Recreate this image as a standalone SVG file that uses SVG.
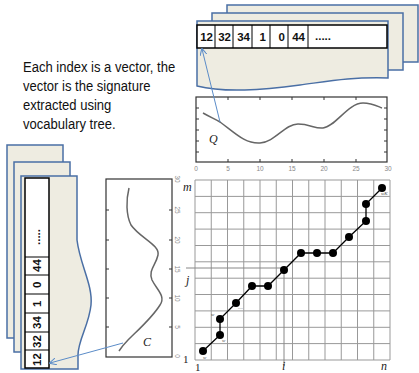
<svg xmlns="http://www.w3.org/2000/svg" width="419" height="373" viewBox="0 0 419 373">
<style>
.doc{fill:#eeece1;stroke:#4a6fa5;stroke-width:1.5}
.cell{fill:#fff;stroke:#000;stroke-width:1.5}
.num{font-family:"Liberation Sans",Arial,sans-serif;font-size:11.5px;font-weight:bold;fill:#111}
.para{font-family:"Liberation Sans",Arial,sans-serif;font-size:14.5px;fill:#111}
.frame{fill:#fff;stroke:#333;stroke-width:1.2}
.tick{font-family:"Liberation Sans",Arial,sans-serif;font-size:6.5px;fill:#888}
.curve{fill:none;stroke:#666;stroke-width:1.5}
.grid{fill:none;stroke:#999;stroke-width:1}
.ax{font-family:"Liberation Serif","Times New Roman",serif;font-style:italic;font-size:12px;fill:#222}
.one{font-family:"Liberation Serif","Times New Roman",serif;font-size:11px;fill:#222}
.w{font-family:"Liberation Serif",serif;font-style:italic;font-size:5px;fill:#444}
.conn{fill:none;stroke:#5b8cc8;stroke-width:1}
.path{fill:none;stroke:#000;stroke-width:1.3}
</style>
<defs>
<marker id="ah" viewBox="0 0 10 10" refX="9" refY="5" markerWidth="7" markerHeight="7" orient="auto">
<path d="M0,0 L10,5 L0,10" fill="none" stroke="#5b8cc8" stroke-width="1.5"/>
</marker>
</defs>

<g id="top-docs">
<rect class="doc" x="227" y="5" width="191" height="57"/>
<rect class="doc" x="212" y="13" width="191" height="57"/>
<path class="doc" d="M197,21 H388 V78 C350,77 330,81 300,85 C262,90 225,93 197,86 Z"/>
</g>
<g id="top-vector">
<rect class="cell" x="197" y="25" width="190" height="23"/>
<path d="M215,25V48M233,25V48M252,25V48M270,25V48M288,25V48M308,25V48" stroke="#000" stroke-width="1"/>
<text class="num" x="213" y="41" text-anchor="end">12</text>
<text class="num" x="231" y="41" text-anchor="end">32</text>
<text class="num" x="250" y="41" text-anchor="end">34</text>
<text class="num" x="266" y="41" text-anchor="end">1</text>
<text class="num" x="285" y="41" text-anchor="end">0</text>
<text class="num" x="305" y="41" text-anchor="end">44</text>
<text class="num" x="315" y="40">.....</text>
</g>

<g id="caption" transform="scale(0.9,1)">
<text class="para" x="25.5" y="72">Each index is a vector, the</text>
<text class="para" x="25.5" y="91">vector is the signature</text>
<text class="para" x="25.5" y="110">extracted using</text>
<text class="para" x="25.5" y="129">vocabulary tree.</text>
</g>

<g id="left-docs">
<rect class="doc" x="7" y="145" width="56" height="193"/>
<rect class="doc" x="14" y="162" width="56" height="190"/>
<path class="doc" d="M21,176 H77 V240 C80,265 93,285 91,305 C89,325 78,340 78,355 V369 H21 Z"/>
</g>
<g id="left-vector">
<rect class="cell" x="25" y="178" width="24" height="190"/>
<path d="M25,257H49M25,275H49M25,294H49M25,313H49M25,332H49M25,350H49" stroke="#000" stroke-width="1"/>
<text class="num" transform="translate(41,366) rotate(-90)">12</text>
<text class="num" transform="translate(41,348) rotate(-90)">32</text>
<text class="num" transform="translate(41,329) rotate(-90)">34</text>
<text class="num" transform="translate(41,307) rotate(-90)">1</text>
<text class="num" transform="translate(41,288) rotate(-90)">0</text>
<text class="num" transform="translate(41,272) rotate(-90)">44</text>
<text class="num" transform="translate(40,245) rotate(-90)">.....</text>
</g>

<g id="q-chart">
<rect class="frame" x="196" y="97" width="191" height="65"/>
<path d="M196,108h3M196,119h3M196,130h3M196,141h3M196,152h3M387,108h-3M387,119h-3M387,130h-3M387,141h-3M387,152h-3M228,162v-3M260,162v-3M292,162v-3M324,162v-3M356,162v-3M228,97v3M260,97v3M292,97v3M324,97v3M356,97v3" stroke="#333" stroke-width="1"/>
<path class="curve" d="M203,113 C210,117 215,119 220,122 C235,133 245,144 260,143 C275,142 285,124 298,124 C310,124 315,129 323,128 C335,127 348,103 363,103 C372,103 377,106 382,108"/>
<text class="ax" x="209" y="143">Q</text>
<g class="tick" text-anchor="middle">
<text x="196" y="171">0</text><text x="228" y="171">5</text><text x="260" y="171">10</text><text x="292" y="171">15</text><text x="324" y="171">20</text><text x="356" y="171">25</text><text x="388" y="171">30</text>
</g>
</g>

<g id="c-chart">
<rect class="frame" x="106" y="179" width="66" height="178"/>
<path d="M172,327h-3M172,298h-3M172,269h-3M172,240h-3M172,210h-3M106,327h3M106,298h3M106,269h3M106,240h3M106,210h3" stroke="#333" stroke-width="1"/>
<path class="curve" d="M129,188 C126,200 126,215 131,225 C140,238 160,245 158,255 C156,265 148,270 152,280 C157,290 166,296 160,305 C152,318 138,330 128,340 C124,344 121,348 119,351"/>
<text class="ax" x="143" y="346">C</text>
<g class="tick" text-anchor="middle">
<text transform="translate(175,356) rotate(90)">0</text>
<text transform="translate(175,327) rotate(90)">5</text>
<text transform="translate(175,298) rotate(90)">10</text>
<text transform="translate(175,269) rotate(90)">15</text>
<text transform="translate(175,240) rotate(90)">20</text>
<text transform="translate(175,210) rotate(90)">25</text>
<text transform="translate(175,179) rotate(90)">30</text>
</g>
</g>

<g id="grid-chart">
<path class="grid" d="M195,180V360M211.25,180V360M227.5,180V360M243.75,180V360M260,180V360M276.25,180V360M292.5,180V360M308.75,180V360M325,180V360M341.25,180V360M357.5,180V360M373.75,180V360M390,180V360
M195,180H390M195,196.4H390M195,212.7H390M195,229.1H390M195,245.5H390M195,261.8H390M195,278.2H390M195,294.5H390M195,310.9H390M195,327.3H390M195,343.6H390M195,360H390"/>
<path d="M186,268H284V366" stroke="#888" stroke-width="1" fill="none"/>
<path class="path" d="M203,351 L220,335 L220,319 L236,303 L252,286 L268,286 L284,270 L301,253 L317,253 L333,253 L349,237 L366,221 L366,204 L382,188"/>
<g fill="#000">
<circle cx="203" cy="351" r="4"/><circle cx="220" cy="335" r="4"/><circle cx="220" cy="319" r="4"/><circle cx="236" cy="303" r="4"/>
<circle cx="252" cy="286" r="4"/><circle cx="268" cy="286" r="4"/><circle cx="284" cy="270" r="4"/><circle cx="301" cy="253" r="4"/>
<circle cx="317" cy="253" r="4"/><circle cx="333" cy="253" r="4"/><circle cx="349" cy="237" r="4"/><circle cx="366" cy="221" r="4"/>
<circle cx="366" cy="204" r="4"/><circle cx="382" cy="188" r="4"/>
</g>
<text class="w" x="203" y="359">w</text>
<text class="w" x="222" y="342">w</text>
<text class="w" x="211" y="316">w</text>
<text class="w" x="238" y="309">....</text>
<text class="w" x="381" y="195">wK</text>
<text class="ax" x="183" y="191">m</text>
<text class="ax" x="186" y="284">j</text>
<text class="one" x="183" y="363">1</text>
<text class="one" x="195" y="371">1</text>
<text class="ax" x="282" y="370">i</text>
<text class="ax" x="381" y="370">n</text>
</g>

<g id="connectors">
<path class="conn" d="M220,122 L202,49" marker-end="url(#ah)"/>
<path class="conn" d="M123,343 L50,363" marker-end="url(#ah)"/>
</g>
</svg>
